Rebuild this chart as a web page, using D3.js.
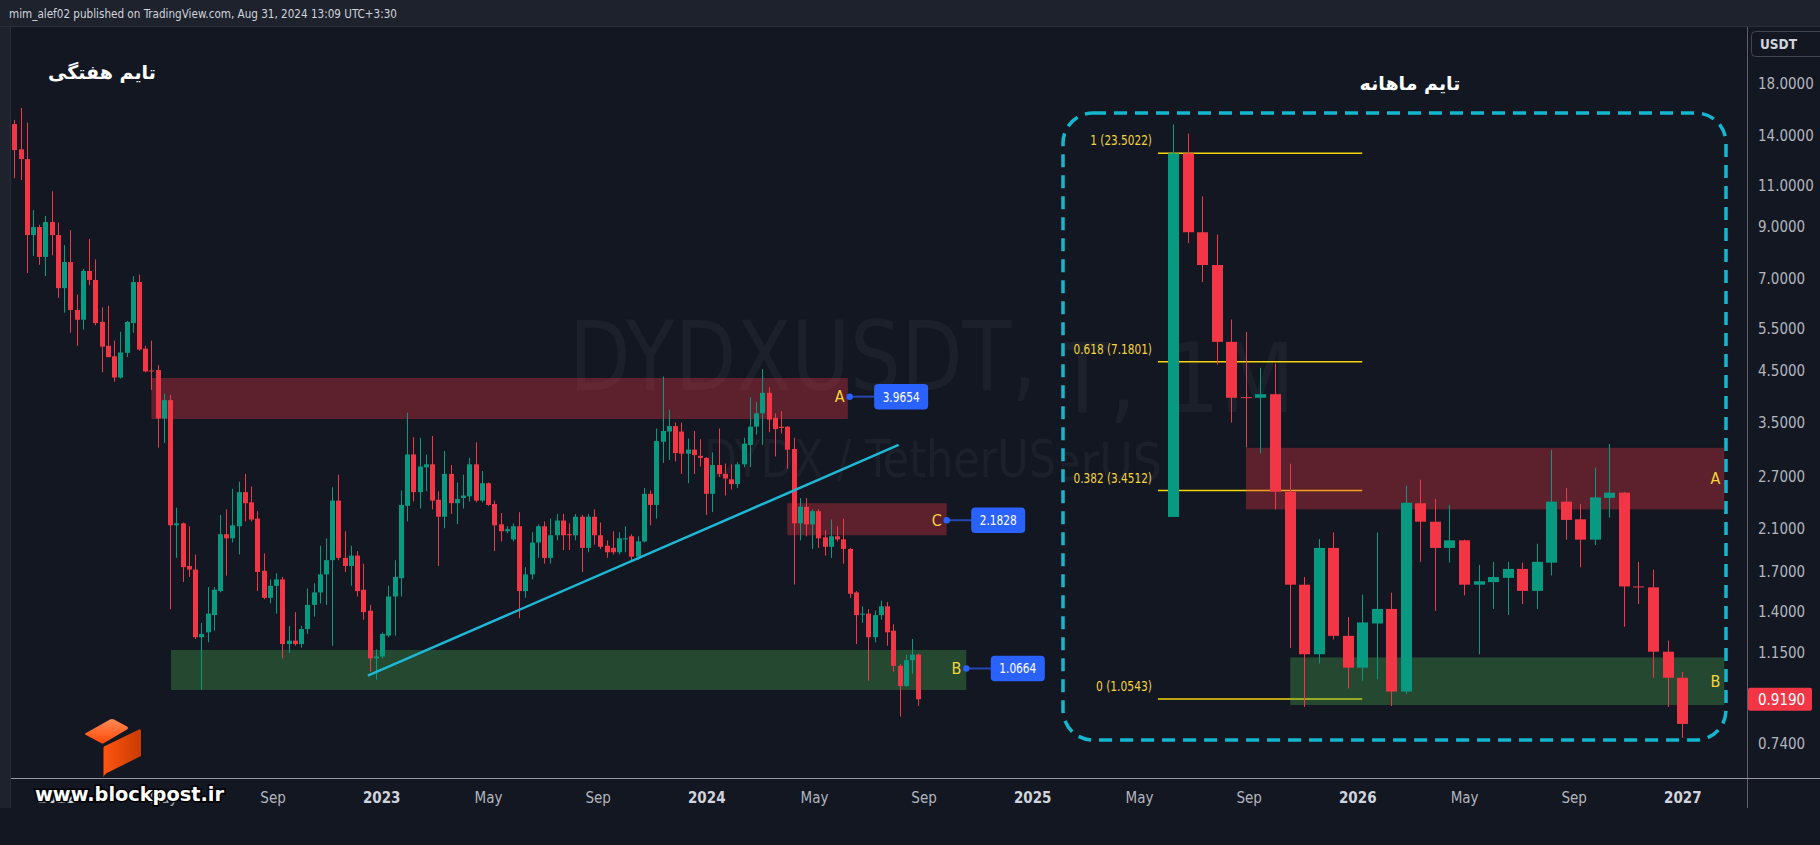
<!DOCTYPE html>
<html><head><meta charset="utf-8">
<script src="https://cdn.jsdelivr.net/npm/d3@7"></script>
<style>html,body{margin:0;padding:0;background:#131722;overflow:hidden}svg{display:block}</style>
</head><body>
<svg id="c" width="1820" height="845"></svg>
<script>
// ---------------- DATA ----------------
const headerText = "mim_alef02 published on TradingView.com, Aug 31, 2024 13:09 UTC+3:30";
const weekStart = "2021-11-15";
const weekOpen = [14.8,13.1,12.5,8.66,9.0,7.79,9.22,8.66,6.70,7.6, 6.03,5.75,7.28,6.97,5.69,5.07,4.82,4.35,4.9,5.66,
 6.9,5.0,4.5,4.51,3.57,3.9,2.13,2.15,1.75,1.72, 1.24,1.27,1.38,1.55,2.04,2.0,2.12,2.50,2.38,2.2,
 1.71,1.50,1.59,1.64,1.20,1.22,1.20,1.29,1.45,1.54, 1.68,1.80,2.40,1.82,1.75,1.84,1.56,1.41,1.12,1.13,
 1.25,1.51,1.65,2.34,3.0,2.5,2.82,2.86,2.41,2.22, 2.73,2.37,2.43,2.45,2.86,2.40,2.61,2.36,2.14,2.07,
 1.99,2.12,1.55,1.68,1.96,2.12,1.82,2.03,2.18,2.04, 2.03,2.22,1.91,2.22,2.03,1.93,1.91,1.87,1.99,2.02,
 1.83,1.97,2.48,2.35,3.19,3.35,3.44,3.35,3.01,3.07, 2.98,2.95,2.48,2.85,2.73,2.66,2.60,2.86,3.14,3.43,
 3.66,4.04,3.58,3.43,3.43,3.08,2.15,2.33,2.14,2.28, 2.01,1.92,2.02,1.99,1.90,1.54,1.385,1.39,1.24,1.38,
 1.44,1.28,1.08,0.98,1.11,1.14];
const weekHigh = [15.1,16.0,14.9,9.77,9.1,9.5,10.7,9.2,8.25,8.87, 6.5,7.35,8.5,7.7,6.1,6.15,5.2,5.43,5.72,7.1,
 7.15,5.07,5.2,4.62,4.02,4.0,2.32,2.16,2.12,1.85, 1.33,1.58,1.58,2.24,2.30,2.54,2.63,2.73,2.57,2.28,
 1.86,1.64,1.69,1.66,1.31,1.40,1.31,1.57,1.61,1.93, 2.0,2.56,2.72,2.07,1.93,1.88,1.77,1.45,1.17,1.27,
 1.59,1.80,2.52,3.67,3.26,3.25,3.0,3.28,2.51,3.05, 2.85,2.62,2.72,2.95,3.18,2.77,2.62,2.40,2.26,2.12,
 2.15,2.27,1.74,2.06,2.14,2.17,2.20,2.25,2.25,2.15, 2.25,2.24,2.25,2.30,2.16,1.98,2.07,2.06,2.12,2.04,
 2.02,2.55,2.52,3.40,4.37,3.72,3.50,3.50,3.24,3.36, 3.23,2.96,3.03,3.40,2.87,2.86,2.89,3.25,3.95,3.86,
 4.53,4.15,3.66,3.70,3.44,3.25,2.43,2.43,2.30,2.30, 2.08,2.19,2.12,2.20,1.91,1.55,1.44,1.42,1.41,1.48,
 1.47,1.32,1.09,1.14,1.23,1.145];
const weekLow = [11.4,11.3,7.21,7.83,7.5,7.1,7.85,6.39,5.95,5.4, 5.07,5.48,6.8,5.6,4.46,4.8,4.26,4.33,4.8,5.4,
 4.95,4.46,4.1,3.10,3.17,1.42,1.82,1.62,1.66,1.23, 0.963,1.21,1.28,1.54,1.67,1.96,1.85,2.17,2.17,1.55,
 1.49,1.46,1.39,1.12,1.15,1.19,1.18,1.26,1.37,1.46, 1.45,1.19,1.80,1.70,1.59,1.51,1.35,1.05,1.01,1.12,
 1.24,1.25,1.51,2.17,2.39,2.31,2.51,2.30,1.75,2.1, 2.25,2.14,2.31,2.39,2.38,2.38,2.34,1.88,1.97,2.05,
 1.97,1.36,1.50,1.64,1.82,1.77,1.77,1.98,1.89,1.89, 1.98,1.70,1.87,1.94,1.90,1.82,1.85,1.85,1.87,1.80,
 1.80,1.96,2.13,2.20,2.88,2.92,2.90,2.73,2.61,2.73, 2.83,2.24,2.27,2.69,2.46,2.53,2.55,2.82,2.82,3.30,
 3.14,3.34,2.97,3.32,2.80,1.60,1.98,2.02,1.90,1.91, 1.84,1.82,1.97,1.77,1.50,1.20,1.33,1.005,1.21,1.35,
 1.19,1.05,0.845,0.975,1.04,0.89];
const weekClose = [13.06,12.5,8.66,9.0,7.79,9.22,8.66,6.70,7.6,6.03, 5.75,7.28,6.97,5.66,5.05,4.8,4.35,4.91,5.69,6.9,
 4.98,4.48,4.48,3.57,3.9,2.13,2.15,1.74,1.72,1.24, 1.26,1.39,1.56,2.04,2.0,2.13,2.50,2.37,2.19,1.70,
 1.50,1.59,1.64,1.20,1.22,1.20,1.29,1.45,1.54,1.68, 1.80,2.40,1.82,1.75,1.84,1.55,1.40,1.12,1.13,1.26,
 1.51,1.66,2.35,3.0,2.5,2.83,2.86,2.40,2.22,2.73, 2.37,2.42,2.46,2.86,2.40,2.61,2.35,2.13,2.07,2.09,
 2.12,1.55,1.68,1.96,2.12,1.82,2.03,2.18,2.03,2.03, 2.22,1.91,2.22,2.03,1.92,1.87,1.87,2.00,2.00,1.83,
 1.97,2.48,2.35,3.20,3.36,3.44,3.02,3.01,3.07,2.99, 2.95,2.48,2.85,2.73,2.67,2.60,2.86,3.16,3.43,3.66,
 4.04,3.55,3.39,3.41,3.07,2.15,2.33,2.14,2.28,2.00, 1.92,2.02,1.99,1.90,1.53,1.38,1.39,1.24,1.38,1.44,
 1.27,1.08,0.98,1.11,1.14,0.919];

const monthStart = "2021-09-01";
const monthOpen  = [2.97,23.5,15.0,12.45,8.04,5.87,5.85,5.97,3.43,2.02, 1.36,2.49,1.51,1.26,1.62,1.76,1.10,3.21,2.89,2.49,
 2.60,2.02,2.05,2.10,2.21,1.95,2.29,3.24,2.93,2.61, 3.31,3.41,2.00,1.99,1.38,1.19];
const monthHigh  = [27.7,26.3,18.4,14.8,9.13,8.51,6.94,7.11,4.02,2.11, 2.62,2.72,1.68,1.91,2.72,1.93,3.55,3.67,3.29,3.18,
 2.61,2.26,2.30,2.30,2.29,2.55,4.35,3.50,3.20,3.93, 4.50,3.42,2.30,2.20,1.47,1.23];
const monthLow   = [2.97,14.1,11.3,7.07,5.08,4.41,4.26,3.10,1.41,1.008, 1.29,1.48,1.12,1.17,1.18,1.013,1.085,2.30,1.74,2.29,
 1.90,1.36,1.76,1.70,1.81,1.76,2.13,2.61,2.23,2.53, 2.96,1.59,1.81,1.19,1.008,0.845];
const monthClose = [23.5,15.0,12.45,8.04,5.85,5.85,5.97,3.43,2.02,1.36, 2.49,1.51,1.26,1.63,1.76,1.10,3.22,2.89,2.49,2.60,
 2.02,2.06,2.11,2.21,1.95,2.30,3.24,2.92,2.61,3.32, 3.41,2.00,1.99,1.38,1.19,0.915];

const priceTicks = [18,14,11,9,7,5.5,4.5,3.5,2.7,2.1,1.7,1.4,1.15,0.74];
const lastPrice = 0.919;
const timeTicks = ["2022-01-01","2022-05-01","2022-09-01","2023-01-01","2023-05-01","2023-09-01","2024-01-01","2024-05-01",
 "2024-09-01","2025-01-01","2025-05-01","2025-09-01","2026-01-01","2026-05-01","2026-09-01","2027-01-01"];

const zoneNames  = ["A","C","B"];
const zoneStart  = ["2022-04-18","2024-04-01","2022-05-10"];
const zoneEnd    = ["2024-06-08","2024-09-27","2024-10-19"];
const zoneTop    = [4.34,2.37,1.166];
const zoneBottom = [3.56,2.03,0.961];

const calloutNames  = ["A","C","B"];
const calloutDates  = ["2024-06-10","2024-09-27","2024-10-19"];
const calloutPrices = [3.9654,2.1828,1.0664];

const trendDates  = ["2022-12-17","2024-08-04"];
const trendPrices = [1.03,3.14];

const fibRatios = [1,0.618,0.382,0];
const fibValues = [23.5022,7.1801,3.4512,1.0543];
const fibFromBar = -1.05, fibToBar = 13;
const insetZoneNames  = ["A","B"];
const insetZoneFrom   = [5,8.05];
const insetZoneTo     = [37.9,37.9];
const insetZoneTop    = [4.40,1.336];
const insetZoneBottom = [3.10,1.019];

// ---------------- DRAW ----------------
const svg = d3.select("#c");
const FC = "'DejaVu Sans Condensed','DejaVu Sans',sans-serif";
const BG="#131722", UP="#089981", DN="#f23645", YEL="#f4d43c";
const parse = d3.utcParse("%Y-%m-%d");

svg.append("rect").attr("width",1820).attr("height",845).attr("fill",BG);
const defs = svg.append("defs");
defs.append("clipPath").attr("id","pane").append("rect").attr("x",11).attr("y",27).attr("width",1736).attr("height",751);
defs.append("clipPath").attr("id","inset").append("rect").attr("x",1062).attr("y",27).attr("width",684).attr("height",750);

// header
svg.append("rect").attr("x",0).attr("y",0).attr("width",1820).attr("height",26).attr("fill","#1e222d");
svg.append("line").attr("x1",0).attr("x2",1820).attr("y1",26.5).attr("y2",26.5).attr("stroke","#2a2e39");
svg.append("text").attr("x",9).attr("y",14).attr("dominant-baseline","middle")
  .attr("font-family",FC).attr("font-stretch","condensed").attr("font-size",12.5).attr("fill","#d1d4dc")
  .attr("textLength",388).attr("lengthAdjust","spacingAndGlyphs").text(headerText);
// left strip
svg.append("rect").attr("x",0).attr("y",27).attr("width",10).attr("height",781).attr("fill","#1e222d");
svg.append("line").attr("x1",10.5).attr("x2",10.5).attr("y1",27).attr("y2",808).attr("stroke","#2a2e39");

// scales
const xMain = d3.scaleUtc().domain([parse("2021-11-15"), parse("2027-01-01")]).range([14.3, 1682.3]);
const yMain = d3.scaleLog().domain([18, 0.74]).range([83.6, 744.1]);

const weekly = weekOpen.map((o,i)=>({x: d3.utcDay.offset(parse(weekStart), 7*i), o, h: weekHigh[i], l: weekLow[i], c: weekClose[i]}));

const gMain = svg.append("g").attr("clip-path","url(#pane)");
// watermark
gMain.append("text").attr("x",569).attr("y",390).attr("font-family",FC).attr("font-stretch","condensed")
  .attr("font-size",97).attr("fill","#ffffff").attr("fill-opacity",0.04)
  .attr("textLength",468).attr("lengthAdjust","spacingAndGlyphs").text("DYDXUSDT,");
gMain.append("text").attr("x",704).attr("y",477).attr("font-family",FC).attr("font-stretch","condensed")
  .attr("font-size",51).attr("fill","#ffffff").attr("fill-opacity",0.04)
  .attr("textLength",352).attr("lengthAdjust","spacingAndGlyphs").text("DYDX / TetherUS");

// zones
zoneNames.forEach((n,i)=>{
  const x0 = xMain(parse(zoneStart[i])), x1 = xMain(parse(zoneEnd[i]));
  gMain.append("rect").attr("x",x0).attr("width",x1-x0)
    .attr("y",yMain(zoneTop[i])).attr("height",yMain(zoneBottom[i])-yMain(zoneTop[i]))
    .attr("fill", n==="B" ? "#4caf50" : "#f23645").attr("fill-opacity",0.33);
});

function drawCandles(g, data, x, y, bw){
  const half = Math.floor(bw/2);
  const k = g.selectAll(null).data(data).join("g");
  k.append("rect").attr("x",d=>Math.round(x(d.x))).attr("width",1)
    .attr("y",d=>y(d.h)).attr("height",d=>Math.max(1,y(d.l)-y(d.h)))
    .attr("fill",d=>d.c>=d.o?UP:DN);
  k.append("rect").attr("x",d=>Math.round(x(d.x))-half).attr("width",bw)
    .attr("y",d=>Math.min(y(d.o),y(d.c))).attr("height",d=>Math.max(1,Math.abs(y(d.o)-y(d.c))))
    .attr("fill",d=>d.c>=d.o?UP:DN);
}
drawCandles(gMain, weekly, xMain, yMain, 5);

// trend line
gMain.append("line")
  .attr("x1",xMain(parse(trendDates[0]))).attr("y1",yMain(trendPrices[0]))
  .attr("x2",xMain(parse(trendDates[1]))).attr("y2",yMain(trendPrices[1]))
  .attr("stroke","#1cb8d6").attr("stroke-width",2.5);

// callouts
calloutNames.forEach((n,i)=>{
  const xd = xMain(parse(calloutDates[i])), yp = yMain(calloutPrices[i]);
  gMain.append("text").attr("x",xd-5).attr("y",yp+1).attr("text-anchor","end").attr("dominant-baseline","middle")
    .attr("font-family",FC).attr("font-size",16).attr("fill",YEL).text(n);
  gMain.append("line").attr("x1",xd).attr("x2",xd+26).attr("y1",yp).attr("y2",yp).attr("stroke","#2447b0").attr("stroke-width",2);
  gMain.append("circle").attr("cx",xd).attr("cy",yp).attr("r",3.2).attr("fill","#2962ff");
  gMain.append("rect").attr("x",xd+24.5).attr("y",yp-12.7).attr("width",54).attr("height",25.4).attr("rx",4).attr("fill","#2962ff");
  gMain.append("text").attr("x",xd+51.5).attr("y",yp+1).attr("text-anchor","middle").attr("dominant-baseline","middle")
    .attr("font-family",FC).attr("font-stretch","condensed").attr("font-size",14).attr("fill","#ffffff")
    .attr("textLength",37).attr("lengthAdjust","spacingAndGlyphs").text(d3.format(".4f")(calloutPrices[i]));
});

// weekly title
svg.append("text").attr("x",102).attr("y",73).attr("text-anchor","middle").attr("dominant-baseline","middle")
  .attr("font-family","'DejaVu Sans',sans-serif").attr("font-weight","bold").attr("font-size",19)
  .attr("fill","#ffffff").attr("direction","rtl").text("تایم هفتگی");

// ---------------- INSET (monthly) ----------------
const xIn = d3.scaleLinear().domain([0,35]).range([1173.2,1682.1]);
const yIn = d3.scaleLog().domain([fibValues[0], fibValues[3]]).range([153.3,699]);
const monthly = monthOpen.map((o,i)=>({x:i, date: d3.utcMonth.offset(parse(monthStart), i), o, h: monthHigh[i], l: monthLow[i], c: monthClose[i]}));

const gIn = svg.append("g");
gIn.append("rect").attr("x",1060).attr("y",27).attr("width",686).attr("height",750).attr("fill",BG);
const gWm = gIn.append("g").attr("clip-path","url(#inset)");
gWm.append("text").attr("x",1295).attr("y",412).attr("text-anchor","end").attr("font-family",FC).attr("font-stretch","condensed")
  .attr("font-size",97).attr("fill","#ffffff").attr("fill-opacity",0.04).text("DYDXUSDT, 1M");
gWm.append("text").attr("x",1162).attr("y",480).attr("text-anchor","end").attr("font-family",FC).attr("font-stretch","condensed")
  .attr("font-size",51).attr("fill","#ffffff").attr("fill-opacity",0.04).text("DYDX / TetherUS");

fibValues.forEach((v,i)=>{
  gIn.append("line").attr("x1",xIn(fibFromBar)).attr("x2",xIn(fibToBar)).attr("y1",yIn(v)).attr("y2",yIn(v))
    .attr("stroke","#f5d50a").attr("stroke-width",1.5);
  const label = `${fibRatios[i]} (${d3.format(".4f")(v)})`;
  gIn.append("text").attr("x",xIn(fibFromBar)-6).attr("y",yIn(v)-12).attr("text-anchor","end").attr("dominant-baseline","middle")
    .attr("font-family",FC).attr("font-stretch","condensed").attr("font-size",14).attr("fill",YEL)
    .attr("textLength",label.length*5.6).attr("lengthAdjust","spacingAndGlyphs").text(label);
});
insetZoneNames.forEach((n,i)=>{
  gIn.append("rect").attr("x",xIn(insetZoneFrom[i])).attr("width",xIn(insetZoneTo[i])-xIn(insetZoneFrom[i]))
    .attr("y",yIn(insetZoneTop[i])).attr("height",yIn(insetZoneBottom[i])-yIn(insetZoneTop[i]))
    .attr("fill", n==="B" ? "#4caf50" : "#f23645").attr("fill-opacity",0.33);
  gIn.append("text").attr("x",xIn(37.3)).attr("y",(yIn(insetZoneTop[i])+yIn(insetZoneBottom[i]))/2+1)
    .attr("text-anchor","middle").attr("dominant-baseline","middle").attr("font-family",FC)
    .attr("font-size",16).attr("fill",YEL).text(n);
});
drawCandles(gIn, monthly, xIn, yIn, 11);

gIn.append("rect").attr("x",1063).attr("y",113).attr("width",663).attr("height",627).attr("rx",30)
  .attr("fill","none").attr("stroke","#13b8cf").attr("stroke-width",3.5).attr("stroke-dasharray","13 8");
gIn.append("text").attr("x",1410).attr("y",84).attr("text-anchor","middle").attr("dominant-baseline","middle")
  .attr("font-family","'DejaVu Sans',sans-serif").attr("font-weight","bold").attr("font-size",19)
  .attr("fill","#ffffff").attr("direction","rtl").text("تایم ماهانه");

// ---------------- AXES ----------------
svg.append("line").attr("x1",1747.5).attr("x2",1747.5).attr("y1",27).attr("y2",808).attr("stroke","#5d606b");
const ya = svg.append("g").attr("transform","translate(1747,0)")
  .call(d3.axisRight(yMain).tickValues(priceTicks).tickFormat(d3.format(".4f")).tickSize(0).tickPadding(11));
ya.select(".domain").remove();
ya.selectAll("text").attr("font-family",FC).attr("font-stretch","condensed").attr("font-size",15).attr("fill","#b2b5be");

// last price label
svg.append("rect").attr("x",1748).attr("y",yMain(lastPrice)-11.5).attr("width",64).attr("height",23).attr("rx",2).attr("fill","#f23645");
svg.append("text").attr("x",1758).attr("y",yMain(lastPrice)+1).attr("dominant-baseline","middle")
  .attr("font-family",FC).attr("font-stretch","condensed").attr("font-size",15).attr("fill","#ffffff").text(d3.format(".4f")(lastPrice));
// USDT box
svg.append("rect").attr("x",1751.5).attr("y",31.5).attr("width",80).attr("height",25).attr("rx",4)
  .attr("fill",BG).attr("stroke","#434651");
svg.append("text").attr("x",1760).attr("y",44.5).attr("dominant-baseline","middle").attr("font-family",FC)
  .attr("font-weight","bold").attr("font-size",13.5).attr("fill","#d1d4dc").text("USDT");

// time axis
svg.append("line").attr("x1",11).attr("x2",1820).attr("y1",778.5).attr("y2",778.5).attr("stroke","#9598a1");
const xa = svg.append("g").attr("transform","translate(0,778)")
  .call(d3.axisBottom(xMain).tickValues(timeTicks.map(parse)).tickSize(0).tickPadding(14)
    .tickFormat(d=> d.getUTCMonth()===0 ? String(d.getUTCFullYear()) : d3.utcFormat("%b")(d)));
xa.select(".domain").remove();
xa.selectAll("text").attr("font-family",FC).attr("font-stretch","condensed").attr("font-size",15)
  .attr("fill",d=> d.getUTCMonth()===0 ? "#d1d4dc" : "#b2b5be")
  .attr("font-weight",d=> d.getUTCMonth()===0 ? "bold" : "normal");

// ---------------- LOGO / SITE ----------------
const lg = defs.append("linearGradient").attr("id","lgTop").attr("x1",0).attr("y1",0).attr("x2",0).attr("y2",1);
lg.append("stop").attr("offset",0).attr("stop-color","#ff8a55");
lg.append("stop").attr("offset",1).attr("stop-color","#ff4a0a");
const lf = defs.append("linearGradient").attr("id","lgFront").attr("x1",0).attr("y1",0).attr("x2",1).attr("y2",0);
lf.append("stop").attr("offset",0).attr("stop-color","#ff5512");
lf.append("stop").attr("offset",1).attr("stop-color","#c93a02");
svg.append("path").attr("d","M86,733 L110,719.5 Q112,718.5 114,719.5 L127,726.5 Q129,728 127,729.5 L104,743 Q102.5,744 101,743 L86,735 Q84,734 86,733 Z")
  .attr("fill","url(#lgTop)");
svg.append("path").attr("d","M104,746.5 L139,729.5 Q141,728.8 141,731 L141,756 L109,772 Q104,774 103.5,777.5 L103.5,748 Q103.5,747 104,746.5 Z")
  .attr("fill","url(#lgFront)");
svg.append("text").attr("x",35).attr("y",795).attr("dominant-baseline","middle").attr("font-family",FC)
  .attr("font-stretch","condensed").attr("font-weight","bold").attr("font-size",19).attr("fill","#ffffff")
  .attr("stroke","#000000").attr("stroke-width",3).attr("paint-order","stroke")
  .attr("textLength",189).attr("lengthAdjust","spacingAndGlyphs").text("www.blockpost.ir");
</script>
</body></html>
